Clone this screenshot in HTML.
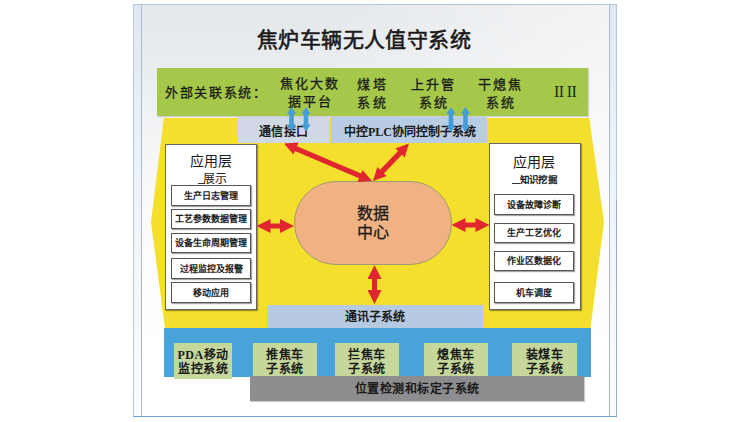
<!DOCTYPE html>
<html lang="zh-CN">
<head>
<meta charset="utf-8">
<style>
html,body{margin:0;padding:0;background:#fff;}
body{width:750px;height:422px;position:relative;overflow:hidden;font-family:"Liberation Sans",sans-serif;color:#1a1a1a;}
.a{position:absolute;box-sizing:border-box;}
.frame{left:133px;top:4px;width:484px;height:413px;border:1px solid #b4c8dc;background:linear-gradient(90deg,rgba(255,255,255,0) 0%,rgba(255,255,255,0) 40%,rgba(255,255,255,.5) 100%),linear-gradient(180deg,#e5e8eb 0px,#eaedf0 60px,#f2f4f6 130px,#f9fafb 200px,#fefefe 270px,#fff 413px);}
.strip{top:5px;height:411px;width:7px;background:linear-gradient(#e0e9f2,#f0f4f8 50%,#fbfcfe);}
.vline{top:5px;height:411px;width:1px;background:#a9bccf;}
.t{position:absolute;white-space:nowrap;line-height:1;}
.box{position:absolute;box-sizing:border-box;background:#fff;border:1px solid #555;box-shadow:1px 1px 1px rgba(0,0,0,.35);}
.bt{position:absolute;left:0;right:0;text-align:center;font-weight:bold;font-size:9px;line-height:1;white-space:nowrap;}
.sub{position:absolute;background:#c6d79c;box-sizing:border-box;text-align:center;font-weight:bold;font-size:12px;line-height:14px;letter-spacing:0.5px;}
</style>
</head>
<body>
<div class="a frame"></div>
<div class="a strip" style="left:134px"></div>
<div class="a vline" style="left:141px"></div>
<div class="a strip" style="left:610px;width:6px"></div>
<div class="a vline" style="left:609px"></div>
<div class="a" style="left:616px;top:200px;width:1px;height:217px;background:#8fb0d2"></div>
<div class="a" style="left:133px;top:416px;width:484px;height:1px;background:#6f9fd0"></div>

<!-- title -->
<div class="t" style="left:257px;top:29px;font-size:21px;letter-spacing:0.4px;-webkit-text-stroke:0.6px #1a1a1a">焦炉车辆无人值守系统</div>

<!-- green band -->
<div class="a" style="left:157px;top:68px;width:431px;height:48px;background:#a5c84b;box-shadow:1px 1px 1px rgba(0,0,0,.15)"></div>
<div class="t" style="left:165px;top:86px;font-size:13px;letter-spacing:1.7px;-webkit-text-stroke:0.3px #1a1a1a">外部关联系统：</div>
<div class="t" style="left:280px;top:75px;font-size:13px;letter-spacing:2px;line-height:18px;text-align:center;-webkit-text-stroke:0.3px #1a1a1a">焦化大数<br>据平台</div>
<div class="t" style="left:357px;top:76px;font-size:13px;letter-spacing:3px;line-height:18px;text-align:center;-webkit-text-stroke:0.3px #1a1a1a">煤塔<br>系统</div>
<div class="t" style="left:411px;top:76px;font-size:13px;letter-spacing:2px;line-height:18px;text-align:center;-webkit-text-stroke:0.3px #1a1a1a">上升管<br>系统</div>
<div class="t" style="left:478px;top:76px;font-size:13px;letter-spacing:2px;line-height:18px;text-align:center;-webkit-text-stroke:0.3px #1a1a1a">干熄焦<br>系统</div>
<div class="t" style="left:554px;top:84px;font-size:16px;font-family:'Liberation Serif',serif;letter-spacing:-0.6px;color:#1e2a10">II II</div>

<svg class="a" style="left:0;top:0" width="750" height="422" viewBox="0 0 750 422">
  <polygon points="163.9,118 589.3,118 604,222 590.5,328.5 165,328.5 151,222" fill="#f4e02c"/>
</svg>

<!-- interface boxes -->
<div class="a" style="left:238px;top:117px;width:91px;height:26px;background:#cfd8e4"></div>
<div class="t" style="left:259px;top:125.5px;font-size:12px;font-weight:bold;letter-spacing:0.4px">通信接口</div>
<div class="a" style="left:331px;top:117px;width:156px;height:26px;background:#b8cce3"></div>
<div class="t" style="left:344px;top:125.5px;font-size:12px;font-weight:bold">中控<span style="font-family:'Liberation Serif',serif">PLC</span>协同控制子系统</div>

<!-- left panel -->
<div class="box" style="left:165px;top:144px;width:92px;height:166px;border-color:#666">
  <div class="bt" style="top:8.5px;font-size:14px;font-weight:normal">应用层</div>
  <div class="t" style="left:37px;top:27.5px;font-size:12px">展示</div><div class="a" style="left:32px;top:38px;width:7px;height:1px;background:#333"></div>
</div>
<div class="box" style="left:171px;top:185px;width:80px;height:21px"><div class="bt" style="top:6px">生产日志管理</div></div>
<div class="box" style="left:171px;top:209px;width:80px;height:20px"><div class="bt" style="top:5px">工艺参数数据管理</div></div>
<div class="box" style="left:171px;top:233px;width:80px;height:20px"><div class="bt" style="top:5px">设备生命周期管理</div></div>
<div class="box" style="left:171px;top:258px;width:80px;height:21px"><div class="bt" style="top:6px">过程监控及报警</div></div>
<div class="box" style="left:171px;top:282px;width:80px;height:21px"><div class="bt" style="top:6px">移动应用</div></div>

<!-- right panel -->
<div class="box" style="left:489px;top:143px;width:92px;height:167px;border-color:#666">
  <div class="bt" style="top:11px;font-size:14px;font-weight:normal;left:-2px">应用层</div>
  <div class="t" style="left:30px;top:30.5px;font-size:9.5px;font-weight:bold;letter-spacing:-0.8px">知识挖掘</div><div class="a" style="left:22px;top:39px;width:8px;height:1px;background:#333"></div>
</div>
<div class="box" style="left:494px;top:194px;width:80px;height:21px"><div class="bt" style="top:6px">设备故障诊断</div></div>
<div class="box" style="left:494px;top:223px;width:80px;height:20px"><div class="bt" style="top:5px">生产工艺优化</div></div>
<div class="box" style="left:494px;top:251px;width:80px;height:20px"><div class="bt" style="top:5px">作业区数据化</div></div>
<div class="box" style="left:494px;top:282px;width:80px;height:21px"><div class="bt" style="top:6px">机车调度</div></div>

<!-- comm subsystem -->
<div class="a" style="left:267px;top:304.5px;width:215.5px;height:23.5px;background:#b6cae1"></div>
<div class="t" style="left:267px;width:216px;text-align:center;top:311px;font-size:12px;font-weight:bold">通讯子系统</div>

<!-- blue band -->
<div class="a" style="left:164px;top:328px;width:427px;height:49px;background:#48a3d8"></div>
<div class="sub" style="left:174px;top:343px;width:58px;height:36px;padding-top:5px"><span style="font-family:'Liberation Serif',serif">PDA</span>移动<br>监控系统</div>
<div class="sub" style="left:253px;top:343px;width:64px;height:36px;padding-top:5px">推焦车<br>子系统</div>
<div class="sub" style="left:335px;top:343px;width:64px;height:36px;padding-top:5px">拦焦车<br>子系统</div>
<div class="sub" style="left:424px;top:343px;width:64px;height:36px;padding-top:5px">熄焦车<br>子系统</div>
<div class="sub" style="left:512px;top:343px;width:65px;height:36px;padding-top:5px">装煤车<br>子系统</div>
<div class="a" style="left:250px;top:376px;width:334px;height:25px;background:#8d8d8f;box-shadow:1px 1px 1px rgba(0,0,0,.2)"></div>
<div class="t" style="left:250px;width:334px;text-align:center;top:383px;font-size:12px;font-weight:bold;letter-spacing:0.5px">位置检测和标定子系统</div>

<!-- data center -->
<div class="a" style="left:294px;top:181px;width:158px;height:84px;border-radius:42px;background:#f0b283;border:1px solid #9c9a72"></div>
<div class="t" style="left:294px;width:158px;text-align:center;top:204px;font-size:16px;line-height:19px;-webkit-text-stroke:0.3px #1a1a1a">数据<br>中心</div>

<svg class="a" style="left:0;top:0" width="750" height="422" viewBox="0 0 750 422">
  
  <g fill="#e0262f">
    <polygon points="284.0,143.5 293.4,154.6 294.9,151.0 359.0,178.3 357.5,181.9 372.0,181.0 362.6,169.9 361.1,173.5 297.0,146.2 298.5,142.6"/>
    <polygon points="409.0,143.5 395.3,148.4 398.1,151.1 380.1,169.8 377.3,167.1 373.0,181.0 386.7,176.1 383.9,173.4 401.9,154.7 404.7,157.4"/>
    <polygon points="256.5,226 270.5,233 270.5,228.4 280.0,228.4 280.0,233 294.0,226 280.0,219 280.0,223.6 270.5,223.6 270.5,219"/>
    <polygon points="451.5,225.0 465.5,232.0 465.5,227.5 475.5,227.5 475.5,232.0 489.5,225.0 475.5,218.0 475.5,222.5 465.5,222.5 465.5,218.0"/>
    <polygon points="374.5,265.0 367.5,279.0 372.0,279.0 372.0,290.0 367.5,290.0 374.5,304.0 381.5,290.0 377.0,290.0 377.0,279.0 381.5,279.0"/>
  </g>
  <g fill="#459dd8">
    <polygon points="291.5,107.0 286.9,114.0 289.2,114.0 289.2,124.5 286.9,124.5 291.5,131.5 296.1,124.5 293.8,124.5 293.8,114.0 296.1,114.0"/>
    <polygon points="306.0,107.0 301.4,114.0 303.7,114.0 303.7,124.5 301.4,124.5 306.0,131.5 310.6,124.5 308.3,124.5 308.3,114.0 310.6,114.0"/>
    <polygon points="451.0,107.0 446.4,114.0 448.7,114.0 448.7,125.0 446.4,125.0 451.0,132.0 455.6,125.0 453.3,125.0 453.3,114.0 455.6,114.0"/>
    <polygon points="465.5,107.0 460.9,114.0 463.2,114.0 463.2,125.0 460.9,125.0 465.5,132.0 470.1,125.0 467.8,125.0 467.8,114.0 470.1,114.0"/>
  </g>
</svg>
</body>
</html>
